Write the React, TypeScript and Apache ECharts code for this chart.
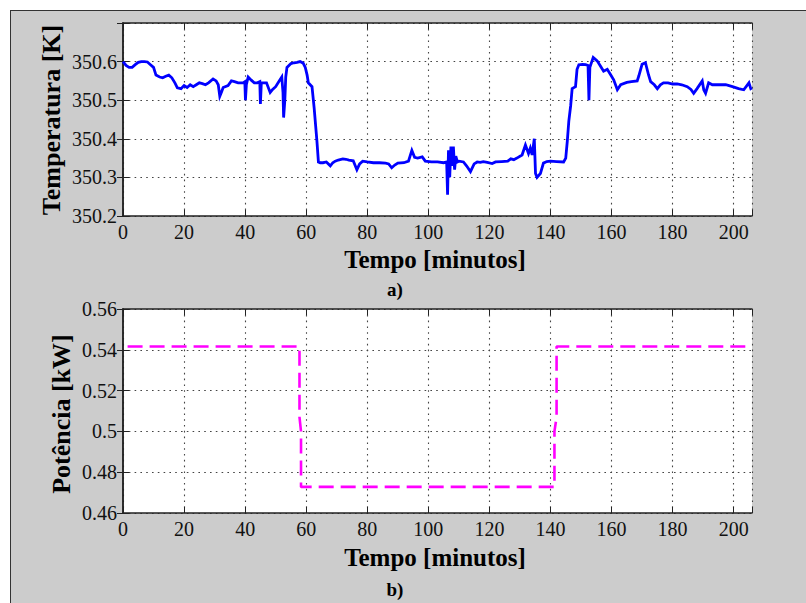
import React, { useEffect, useRef } from "react";
import * as echarts from "echarts";

// Temperatura do reator ao longo do ensaio (minutos, K)
const tempTime = [
  0, 1, 2, 3, 4, 5, 6, 7, 8, 9,
  10, 10.8, 12, 13, 14, 15, 16, 17, 17.8, 19,
  20, 21, 22, 23, 24, 25, 26, 27, 28, 29.5,
  30.5, 31.2, 31.7, 32.3, 32.8, 34.4, 35.5, 36.5, 37.7, 39.3,
  39.9, 40.1, 40.4, 41, 42, 43, 44, 44.8, 45, 45.3,
  46, 47, 48.2, 49, 50, 51, 52, 52.4, 52.6, 53,
  53.3, 53.7, 55, 56, 57, 58, 59, 59.7, 60.3, 60.7,
  61.9, 62.6, 63.5, 64, 64.6, 65.5, 66.6, 67.9, 68.7, 69.5,
  70.5, 72, 73, 74, 75.4, 76.6, 77.5, 78.5, 80, 82,
  84, 86, 87, 88, 89, 90, 92, 93.5, 94.6, 95.5,
  96.5, 98, 99, 101, 103, 105, 106, 106.3, 106.6, 107,
  107.4, 107.8, 108.2, 108.6, 109, 109.5, 110, 111.5, 112.5, 113.8,
  115, 116, 117, 118, 119.3, 120.9, 122, 124, 126, 127,
  128, 129, 130.7, 131.8, 132.8, 133.4, 134, 134.7, 135.1, 135.6,
  136.7, 137.7, 138.8, 140, 142, 144.3, 145, 145.5, 146, 146.6,
  147.1, 148.2, 148.7, 149.3, 150.5, 151.5, 152.3, 152.6, 152.9, 154,
  155.3, 156.4, 157.4, 158.6, 159.7, 160.7, 161.9, 163, 165, 166.5,
  168.4, 168.9, 170, 171.1, 172.1, 172.8, 174, 175, 176, 177,
  178.5, 180, 181.5, 183, 184.8, 186, 186.9, 188, 189.7, 190.2,
  190.8, 191.8, 193, 195.5, 197.4, 199.6, 201.6, 203.3, 205, 205.6,
  206,
];
const tempK = [
  350.6, 350.59, 350.585, 350.585, 350.592, 350.598, 350.6, 350.6, 350.599, 350.592,
  350.585, 350.565, 350.56, 350.558, 350.562, 350.565, 350.558, 350.545, 350.532, 350.53,
  350.538, 350.533, 350.54, 350.535, 350.54, 350.545, 350.543, 350.54, 350.545, 350.555,
  350.55, 350.54, 350.51, 350.522, 350.533, 350.538, 350.55, 350.548, 350.545, 350.545,
  350.548, 350.5, 350.54, 350.56, 350.552, 350.545, 350.545, 350.548, 350.49, 350.545,
  350.545, 350.545, 350.52, 350.528, 350.535, 350.548, 350.56, 350.52, 350.455, 350.5,
  350.56, 350.585, 350.595, 350.597, 350.598, 350.6, 350.596, 350.585, 350.565, 350.545,
  350.535, 350.48, 350.395, 350.34, 350.338, 350.338, 350.34, 350.33, 350.338, 350.342,
  350.345, 350.348, 350.347, 350.345, 350.343, 350.32, 350.335, 350.342, 350.34, 350.338,
  350.338, 350.337, 350.335, 350.325, 350.332, 350.337, 350.338, 350.342, 350.37, 350.352,
  350.35, 350.353, 350.342, 350.34, 350.34, 350.338, 350.34, 350.255, 350.37, 350.3,
  350.38, 350.33, 350.38, 350.32, 350.355, 350.34, 350.342, 350.34, 350.33, 350.315,
  350.335, 350.34, 350.339, 350.341, 350.339, 350.336, 350.34, 350.341, 350.342, 350.348,
  350.346, 350.35, 350.358, 350.384, 350.362, 350.376, 350.358, 350.4, 350.31, 350.3,
  350.31, 350.337, 350.341, 350.342, 350.341, 350.34, 350.35, 350.393, 350.445, 350.485,
  350.53, 350.535, 350.58, 350.592, 350.593, 350.592, 350.59, 350.5, 350.585, 350.611,
  350.602, 350.588, 350.575, 350.58, 350.566, 350.553, 350.527, 350.54, 350.546, 350.548,
  350.55, 350.562, 350.593, 350.597, 350.566, 350.548, 350.54, 350.53, 350.54, 350.545,
  350.545, 350.542, 350.542, 350.54, 350.535, 350.528, 350.518, 350.53, 350.55, 350.527,
  350.518, 350.545, 350.54, 350.54, 350.54, 350.535, 350.53, 350.527, 350.545, 350.53,
  350.532,
];

// Potência aplicada (minutos, kW)
const powerTime = [1.5, 57.8, 57.8, 58.3, 58.3, 141.3, 141.3, 142.0, 142.0, 205];
const powerKW = [0.5416, 0.5416, 0.507, 0.5, 0.4728, 0.4728, 0.5, 0.507, 0.5416, 0.5416];

// Rótulos dos eixos
const timeTickLabels = ["0", "20", "40", "60", "80", "100", "120", "140", "160", "180", "200"];
const tempTickLabels = ["350.2", "350.3", "350.4", "350.5", "350.6"];
const powerTickLabels = ["0.46", "0.48", "0.5", "0.52", "0.54", "0.56"];

const FONT = "Liberation Serif, serif";
const INK = "#111";

const tickLabel = {
  fontFamily: FONT,
  fontSize: 20,
  color: INK,
};

const boxLine = { show: true, lineStyle: { color: "#222", width: 1.5 } };
const inTicks = { show: true, inside: true, length: 6, lineStyle: { color: "#222", width: 1 } };
const dotted = { show: true, lineStyle: { color: "#444", width: 1.1, type: [1.6, 4.2] } };

function timeAxis(gridIndex: number, top: boolean) {
  return {
    type: "value",
    gridIndex,
    position: top ? "top" : "bottom",
    min: 0,
    max: 206,
    interval: 20,
    axisLine: boxLine,
    axisTick: inTicks,
    splitLine: top ? { show: false } : dotted,
    axisLabel: top
      ? { show: false }
      : {
          ...tickLabel,
          margin: 6,
          formatter: (v: number) => {
            const s = String(Math.round(v));
            return timeTickLabels.includes(s) && Math.abs(v - Math.round(v)) < 1e-6 ? s : "";
          },
        },
  };
}

function valueAxis(
  gridIndex: number,
  right: boolean,
  min: number,
  max: number,
  interval: number,
  labels: string[],
  digits: number
) {
  return {
    type: "value",
    gridIndex,
    position: right ? "right" : "left",
    min,
    max,
    interval,
    axisLine: boxLine,
    axisTick: inTicks,
    splitLine: right ? { show: false } : dotted,
    axisLabel: right
      ? { show: false }
      : {
          ...tickLabel,
          margin: 6,
          formatter: (v: number) => {
            const s = String(parseFloat(v.toFixed(digits)));
            return labels.includes(s) ? s : "";
          },
        },
  };
}

function title(text: string, x: number, y: number, size: number, rotate = false) {
  return {
    type: "text",
    x,
    y,
    rotation: rotate ? Math.PI / 2 : 0,
    style: {
      text,
      font: `bold ${size}px ${FONT}`,
      fill: "#000",
      align: "center",
      verticalAlign: "middle",
      textAlign: "center",
      textVerticalAlign: "middle",
    },
  };
}

export default function App() {
  const ref = useRef<HTMLDivElement>(null);

  useEffect(() => {
    if (!ref.current) return;
    const chart = echarts.init(ref.current, undefined, { renderer: "svg" });
    chart.setOption({
      animation: false,
      grid: [
        { left: 123, top: 23, width: 629, height: 193, show: true, backgroundColor: "#fff", borderWidth: 0 },
        { left: 123, top: 309, width: 629, height: 204, show: true, backgroundColor: "#fff", borderWidth: 0 },
      ],
      xAxis: [timeAxis(0, false), timeAxis(0, true), timeAxis(1, false), timeAxis(1, true)],
      yAxis: [
        valueAxis(0, false, 350.2, 350.7, 0.1, tempTickLabels, 1),
        valueAxis(0, true, 350.2, 350.7, 0.1, tempTickLabels, 1),
        valueAxis(1, false, 0.46, 0.56, 0.02, powerTickLabels, 2),
        valueAxis(1, true, 0.46, 0.56, 0.02, powerTickLabels, 2),
      ],
      series: [
        {
          type: "line",
          xAxisIndex: 0,
          yAxisIndex: 0,
          data: tempTime.map((t, i) => [t, tempK[i]]),
          showSymbol: false,
          lineStyle: { color: "#0000ff", width: 2.8, join: "miter" },
        },
        {
          type: "line",
          xAxisIndex: 2,
          yAxisIndex: 2,
          data: powerTime.map((t, i) => [t, powerKW[i]]),
          showSymbol: false,
          lineStyle: { color: "#ff00ff", width: 2.6, type: [15, 7] },
        },
      ],
      graphic: [
        title("Temperatura [K]", 51, 120, 26, true),
        title("Tempo [minutos]", 435, 259, 25),
        title("a)", 395, 289, 19),
        title("Potência [kW]", 61, 414, 26, true),
        title("Tempo [minutos]", 435, 557, 25),
        title("b)", 395, 589, 19),
      ],
    });
    return () => chart.dispose();
  }, []);

  return (
    <div
      style={{
        position: "absolute",
        left: 0,
        top: 0,
        width: 806,
        height: 603,
        background: "#fff",
        overflow: "hidden",
      }}
    >
      <div
        style={{
          position: "absolute",
          left: 10,
          top: 10,
          width: 796,
          height: 593,
          background: "#cccccc",
          borderTop: "1px solid #333",
          borderLeft: "1px solid #333",
          boxSizing: "border-box",
        }}
      />
      <div ref={ref} style={{ position: "absolute", left: 0, top: 0, width: 806, height: 603 }} />
    </div>
  );
}
